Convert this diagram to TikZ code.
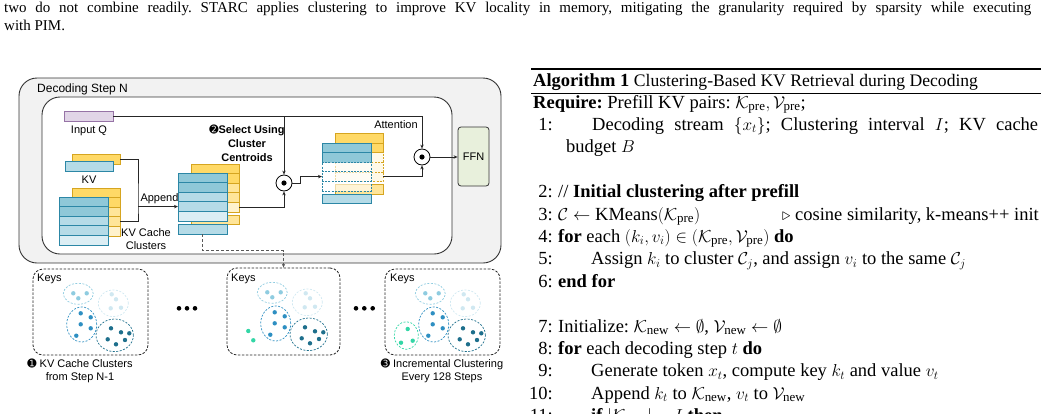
\documentclass[tikz,border=0pt]{standalone}
\usepackage{amsmath,amssymb}
\usepackage{fontspec}
\setmainfont{Liberation Serif}
\setsansfont{Liberation Sans}
\newfontfamily\dejavu{DejaVu Sans}
\usetikzlibrary{arrows.meta,calc}
\definecolor{outerfill}{HTML}{F2F2F2}
\definecolor{edge}{HTML}{333333}
\definecolor{qfill}{HTML}{E1D5E7}
\definecolor{qdraw}{HTML}{9673A6}
\definecolor{bA}{HTML}{8FC8D8}
\definecolor{bB}{HTML}{B5DBE7}
\definecolor{bC}{HTML}{DCEEF4}
\definecolor{bS}{HTML}{2C87A6}
\definecolor{yA}{HTML}{FFD966}
\definecolor{yB}{HTML}{FFE599}
\definecolor{yC}{HTML}{FFF2CC}
\definecolor{yS}{HTML}{D6A520}
\definecolor{ffnfill}{HTML}{E8F0DC}
\definecolor{kA}{HTML}{8FCCE0}
\definecolor{kB}{HTML}{D0E8F1}
\definecolor{kC}{HTML}{2E8FC2}
\definecolor{kD}{HTML}{1E6F8C}
\definecolor{kG}{HTML}{33D6A6}
\newcommand{\keyclusters}{%
  \draw[cl, draw=kA] (78.3,293.8) ellipse [x radius=15pt, y radius=10.5pt];
  \fill[kA] (73.3,293.3) circle (2.2pt) (86.7,293.3) circle (2.2pt) (78.3,298.3) circle (2.2pt);
  \draw[cl, draw=kB] (113.3,303.3) ellipse [x radius=15pt, y radius=13.3pt];
  \fill[kB] (111.7,294.3) circle (2.2pt) (116,299.3) circle (2.2pt) (110.7,308.3) circle (2.2pt) (121,307.7) circle (2.2pt);
  \draw[cl, draw=kC] (81.7,324.5) ellipse [x radius=15pt, y radius=17.5pt];
  \fill[kC] (80.7,313.3) circle (2.2pt) (90.7,317.3) circle (2.2pt) (80.7,324.3) circle (2.2pt) (90.7,328.3) circle (2.2pt) (76.3,335.7) circle (2.2pt);
  \draw[cl, draw=kD] (114.7,335.3) ellipse [x radius=18.7pt, y radius=16.3pt];
  \fill[kD] (111,328.3) circle (2.2pt) (121,332.3) circle (2.2pt) (129.3,333.3) circle (2.2pt) (107.7,339.3) circle (2.2pt) (125,340) circle (2.2pt) (116,344.3) circle (2.2pt);
}
\begin{document}
\frenchspacing
\begin{tikzpicture}[x=1pt,y=-1pt,
  lbl/.style={font=\sffamily\fontsize{11}{13}\selectfont, inner sep=0, align=center},
  cell/.style={rectangle, inner sep=0, outer sep=0, line width=0.7pt, minimum height=9.6pt},
  bcell/.style={cell, draw=bS, minimum width=49pt},
  ycell/.style={cell, draw=yS, minimum width=48pt},
  conn/.style={draw=black!85, line width=0.8pt},
  arr/.style={conn, -{Stealth[length=4pt,width=3.4pt]}},
  mul/.style={circle, draw=black, line width=0.8pt, fill=white, minimum size=16pt, inner sep=0},
  keysbox/.style={draw=black!85, dash pattern=on 2.5pt off 1.5pt, rounded corners=10pt, line width=0.8pt, inner sep=0, minimum width=115pt, minimum height=86pt},
  cl/.style={dash pattern=on 2pt off 1.5pt, line width=0.7pt},
  alg/.style={font=\fontsize{18.5}{22.4}\selectfont, inner sep=0, anchor=base west},
  num/.style={alg, anchor=base east},
  dotsym/.style={circle, fill=black, inner sep=0, minimum size=4.6pt}
]
\clip (0,0) rectangle (1042,413);
\useasboundingbox (0,0) rectangle (1042,413);

% ---------- top paragraph ----------
\node[anchor=base west, inner sep=0, font=\fontsize{15}{18.5}\selectfont] (p1) at (4,12)
  {\makebox[1027pt][s]{two do not combine readily. STARC applies clustering to improve KV locality in memory, mitigating the granularity required by sparsity while executing}};
\node[anchor=base west, inner sep=0, font=\fontsize{15}{18.5}\selectfont] (p2) at (4,30.5) {with PIM.};

% ---------- outer / inner boxes ----------
\node[draw=edge, fill=outerfill, rounded corners=18pt, line width=0.9pt, minimum width=482pt, minimum height=185pt, inner sep=0] (outer) at (260,170.5) {};
\node[lbl, anchor=west, font=\sffamily\fontsize{12}{14}\selectfont] (steplbl) at (37,89) {Decoding Step N};
\node[draw=edge, fill=white, rounded corners=18pt, line width=0.9pt, minimum width=410pt, minimum height=157pt, inner sep=0] (inner) at (247,175.5) {};

% Input Q
\node[draw=qdraw, fill=qfill, line width=0.7pt, minimum width=49pt, minimum height=10pt, inner sep=0] (inq) at (88.5,116) {};
\node[lbl] (inqlbl) at (89,131) {Input Q};

% new KV
\node[ycell, fill=yA] (kvy) at (96,159.5) {};
\node[bcell, fill=bB, minimum width=48pt, minimum height=10pt] (kvb) at (89,166) {};
\node[lbl] (kvlbl) at (89,180) {KV};

% KV cache stack (left)
\foreach \i/\yy/\c in {1/192.8/yA,2/202.4/yA,3/212/yB,4/221.6/yB,5/231.2/yC}
  \node[ycell, fill=\c] (cy\i) at (96,\yy) {};
\foreach \i/\yy/\c in {1/201.8/bA,2/211.4/bA,3/221/bB,4/230.6/bB,5/240.2/bC}
  \node[bcell, fill=\c] (cb\i) at (83.5,\yy) {};
\node[lbl] (cachelbl) at (146,239.5) {KV Cache\\Clusters};

% middle stack
\foreach \i/\yy/\c in {1/168.8/yA,2/178.4/yA,3/188/yB,4/197.6/yB,5/207.2/yC}
  \node[ycell, fill=\c] (my\i) at (215,\yy) {};
\node[ycell, fill=yB] (myn) at (215,220) {};
\foreach \i/\yy/\c in {1/177.8/bA,2/187.4/bA,3/197/bB,4/206.6/bB,5/216.2/bC}
  \node[bcell, fill=\c] (mb\i) at (202.5,\yy) {};
\node[bcell, fill=bB] (mbn) at (202.5,229.5) {};

% result stack
\node[ycell, fill=yA] (ry1) at (359,138.3) {};
\node[ycell, fill=yA] (ry2) at (359,147.9) {};
\foreach \i/\yy in {3/157.5,4/167.1,5/176.7}
  \node[ycell, fill=yC!45, dash pattern=on 2pt off 1.2pt] (ry\i) at (359,\yy) {};
\node[ycell, fill=yB] (ryn) at (359,189.5) {};
\node[bcell, fill=bA] (rb1) at (346.5,147.8) {};
\node[bcell, fill=bA] (rb2) at (346.5,157.4) {};
\foreach \i/\yy in {3/167,4/176.6,5/186.2}
  \node[bcell, fill=white, fill opacity=0.6, dash pattern=on 2pt off 1.2pt] (rb\i) at (346.5,\yy) {};
\node[bcell, fill=bB] (rbn) at (346.5,199) {};

% multiplications and FFN
\node[mul] (c1) at (284,183) {};
\fill (c1.center) circle (2.6pt);
\node[mul] (c2) at (422,157) {};
\fill (c2.center) circle (2.6pt);
\node[draw=edge, fill=ffnfill, rounded corners=3pt, line width=0.8pt, minimum width=31pt, minimum height=59pt, lbl] (ffn) at (473.5,156.5) {FFN};

\node[lbl, font=\sffamily\bfseries\fontsize{11}{14}\selectfont] (sel) at (247,143) {{\dejavu\mdseries ➋}Select Using\\Cluster\\Centroids};
\node[lbl] (attlbl) at (396,125) {Attention};
\node[lbl] (applbl) at (159.5,199) {Append};

% connectors
\draw[arr] (inq.east) -| (c1.north);
\draw[arr] (inq.east) -| (c2.north);
\coordinate (br) at (138,206.6);
\draw[conn] (kvy.east) -| (br) |- (cy4.east);
\draw[arr] (br) -- (br -| mb4.west);
\draw[arr] (my5.east) -| (c1.south);
\coordinate (jog) at (300,183);
\draw[arr] (c1.east) -- (jog) |- (rb4.west);
\draw[arr] (ry5.east) -| (c2.south);
\draw[arr] (c2.east) -- (c2.east -| ffn.west);

% key boxes
\node[keysbox] (k1) at (90.5,312) {};
\node[keysbox, minimum width=113pt, minimum height=87pt] (k2) at (283.5,311.5) {};
\node[keysbox] (k3) at (442.5,312) {};
\node[lbl, anchor=west] (k1lbl) at (37,279) {Keys};
\node[lbl, anchor=west] (k2lbl) at (231,279) {Keys};
\node[lbl, anchor=west] (k3lbl) at (390,279) {Keys};

\coordinate (dj) at (240,250.5);
\draw[conn, draw=black!65, dash pattern=on 3pt off 2pt, -{Stealth[length=4pt,width=3.4pt]}] (mbn.south) |- (dj) -| (k2.north);

\keyclusters
\begin{scope}[shift={(194,-1)}]
  \keyclusters
\end{scope}
\fill[kG] (248.3,331) circle (2.2pt) (253.3,340.3) circle (2.2pt);
\begin{scope}[shift={(352,0)}]
  \keyclusters
\end{scope}
\draw[cl, draw=kG] (406.3,335.5) ellipse [x radius=12pt, y radius=13.8pt];
\fill[kG] (407.7,329) circle (2.2pt) (401,342.7) circle (2.2pt) (412.7,340.7) circle (2.2pt);

\node[dotsym] (d1) at (179,308.3) {};
\node[dotsym] (d2) at (187,308.3) {};
\node[dotsym] (d3) at (195,308.3) {};
\node[dotsym] (d4) at (356,308.3) {};
\node[dotsym] (d5) at (364.3,308.3) {};
\node[dotsym] (d6) at (372.7,308.3) {};

\node[lbl] (l1) at (80,370.5) {{\dejavu ➊} KV Cache Clusters\\from Step N-1};
\node[lbl] (l3) at (442,370.5) {{\dejavu ➌} Incremental Clustering\\Every 128 Steps};

% ---------- algorithm ----------
\draw[line width=1.4pt] (531,69) -- (1041,69);
\node[alg] (atitle) at (533,86) {\textbf{Algorithm 1} {\fontsize{17.6}{22.4}\selectfont Clustering-Based KV Retrieval during Decoding}};
\draw[line width=0.7pt] (531,93) -- (1041,93);
\node[alg] (req) at (533,108) {\textbf{Require:} Prefill KV pairs: $\mathcal{K}_{\text{pre}}, \mathcal{V}_{\text{pre}}$;};
\node[num] (n1) at (553,130.4) {1:};
\node[alg] (t1) at (592,130.4) {\makebox[446pt][s]{Decoding stream $\{x_t\}$; Clustering interval $I$; KV cache}};
\node[alg] (t1b) at (566,152.8) {budget $B$};
\node[num] (n2) at (553,197.6) {2:};
\node[alg] (t2) at (558,197.6) {// \textbf{Initial clustering after prefill}};
\node[num] (n3) at (553,220) {3:};
\node[alg] (t3) at (558,220) {$\mathcal{C} \leftarrow \text{KMeans}(\mathcal{K}_{\text{pre}})$};
\node[alg, anchor=base east] (t3c) at (1039,220) {$\triangleright$ cosine similarity, k-means++ init};
\node[num] (n4) at (553,242.4) {4:};
\node[alg] (t4) at (558,242.4) {\textbf{for} each $(k_i, v_i) \in (\mathcal{K}_{\text{pre}}, \mathcal{V}_{\text{pre}})$ \textbf{do}};
\node[num] (n5) at (553,264.8) {5:};
\node[alg] (t5) at (591,264.8) {Assign $k_i$ to cluster $\mathcal{C}_j$, and assign $v_i$ to the same $\mathcal{C}_j$};
\node[num] (n6) at (553,287.2) {6:};
\node[alg] (t6) at (558,287.2) {\textbf{end for}};
\node[num] (n7) at (553,332) {7:};
\node[alg] (t7) at (558,332) {Initialize: $\mathcal{K}_{\text{new}} \leftarrow \emptyset$, $\mathcal{V}_{\text{new}} \leftarrow \emptyset$};
\node[num] (n8) at (553,354.4) {8:};
\node[alg] (t8) at (558,354.4) {\textbf{for} each decoding step $t$ \textbf{do}};
\node[num] (n9) at (553,376.8) {9:};
\node[alg] (t9) at (591,376.8) {Generate token $x_t$, compute key $k_t$ and value $v_t$};
\node[num] (n10) at (553,399.2) {10:};
\node[alg] (t10) at (591,399.2) {Append $k_t$ to $\mathcal{K}_{\text{new}}$, $v_t$ to $\mathcal{V}_{\text{new}}$};
\node[num] (n11) at (553,421.6) {11:};
\node[alg] (t11) at (591,421.6) {\textbf{if} $|\mathcal{K}_{\text{new}}| = I$ \textbf{then}};
\end{tikzpicture}
\end{document}
